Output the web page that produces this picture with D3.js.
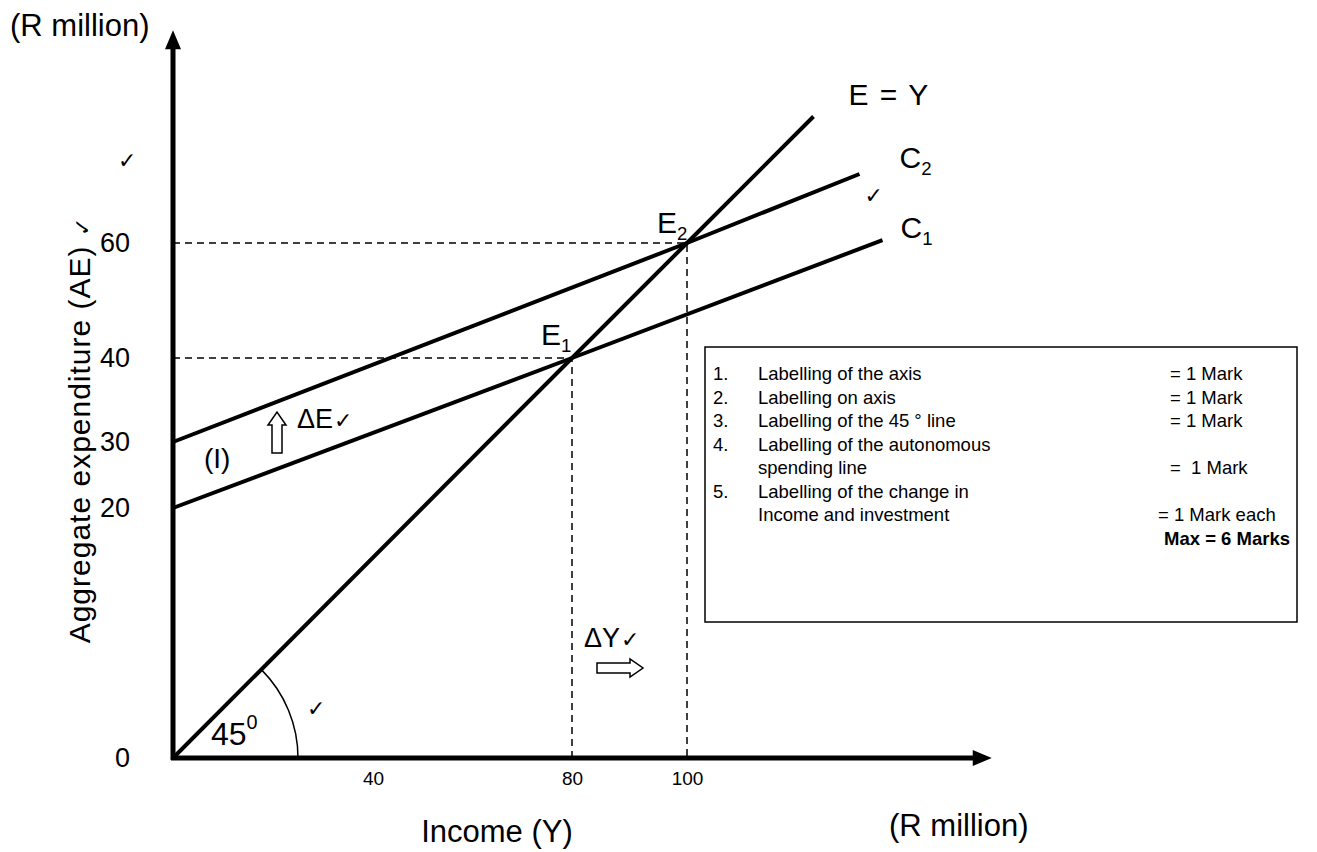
<!DOCTYPE html>
<html>
<head>
<meta charset="utf-8">
<script src="https://cdn.jsdelivr.net/npm/d3@7"></script>
<style>
	body { margin: 0; background: #fff; }
	svg text { font-family: "Liberation Sans", Arial, sans-serif; fill: #000; white-space: pre; }
	svg .chk { font-family: "DejaVu Sans", sans-serif; }
</style>
</head>
<body>
<div id="chart"></div>
<script>
// axis labels (R million)
let xTicks = [40, 80, 100];
let yTicks = [0, 20, 30, 40, 60];
let xStops = [0, 40, 80, 100];
let yStops = [0, 20, 30, 40, 60];

// lines, as [income, expenditure]
let eyLine = [[0, 0], [80, 40], [100, 60], [122, 82]];
let c2Line = [[0, 30], [100, 60], [130, 72]];
let c1Line = [[0, 20], [80, 40], [134, 60.5]];
let guide40 = [[0, 40], [80, 40], [80, 0]];
let guide60 = [[0, 60], [100, 60], [100, 0]];
let axisEnd = [153, 97];

// marking memo
let memo = [
	["1.", "Labelling of the axis", "= 1 Mark"],
	["2.", "Labelling on axis", "= 1 Mark"],
	["3.", "Labelling of the 45 ° line", "= 1 Mark"],
	["4.", "Labelling of the autonomous", ""],
	["", "spending line", "=  1 Mark"],
	["5.", "Labelling of the change in", ""],
	["", "Income and investment", "= 1 Mark each"],
];
let memoTotal = "Max = 6 Marks";

let width = 1317, height = 852;
let svg = d3.select("#chart").append("svg").attr("width", width).attr("height", height);

let x = d3.scaleLinear().domain(xStops).range([173, 373, 572, 687]);
let y = d3.scaleLinear().domain(yStops).range([758, 508, 442, 358, 243]);

let line = d3.line().x((d) => x(d[0])).y((d) => y(d[1]));

// guides
svg.selectAll("path.guide")
	.data([guide40, guide60])
	.join("path")
	.attr("class", "guide")
	.attr("d", line)
	.attr("fill", "none")
	.attr("stroke", "#000")
	.attr("stroke-width", 1.5)
	.attr("stroke-dasharray", "7,5");

// tick labels
svg.append("g")
	.attr("transform", `translate(${x(0)},0)`)
	.call(d3.axisLeft(y).tickValues(yTicks).tickSize(0).tickPadding(43))
	.call((g) => g.select(".domain").remove())
	.call((g) => g.selectAll("text").attr("font-size", 27).attr("font-family", null));

svg.append("g")
	.attr("transform", `translate(0,${y(0)})`)
	.call(d3.axisBottom(x).tickValues(xTicks).tickSize(0).tickPadding(14))
	.call((g) => g.select(".domain").remove())
	.call((g) => g.selectAll("text").attr("font-size", 19).attr("font-family", null));

// axes with arrows
let x0 = x(0), y0 = y(0), xt = x(axisEnd[0]), yt = y(axisEnd[1]);
svg.append("path")
	.attr("d", `M${x0},${y0 + 2}V${yt + 16}M${x0 - 2},${y0}H${xt - 16}`)
	.attr("stroke", "#000")
	.attr("stroke-width", 5);
svg.append("path")
	.attr("d", `M${x0},${yt}L${x0 - 8},${yt + 19}L${x0 + 8},${yt + 19}Z M${xt},${y0}L${xt - 19},${y0 - 8}L${xt - 19},${y0 + 8}Z`)
	.attr("fill", "#000");

// E = Y, C2, C1
svg.selectAll("path.fn")
	.data([eyLine, c2Line, c1Line])
	.join("path")
	.attr("class", "fn")
	.attr("d", line)
	.attr("fill", "none")
	.attr("stroke", "#000")
	.attr("stroke-width", 4);

// 45 degree arc
let arc = d3.path();
arc.arc(x0, y0, 125, -Math.PI / 4, 0);
svg.append("path").attr("d", arc.toString()).attr("fill", "none").attr("stroke", "#000").attr("stroke-width", 1.5);

let label = (px, py, main, sub, size = 30, sup = false) => {
	let t = svg.append("text").attr("x", px).attr("y", py).attr("font-size", size);
	t.append("tspan").text(main);
	if (sub) t.append("tspan").attr("font-size", size * 0.62).attr("dy", sup ? -size * 0.5 : size * 0.22).text(sub);
	return t;
};
let check = (px, py, size = 22) =>
	svg.append("text").attr("class", "chk").attr("x", px).attr("y", py).attr("font-size", size).text("✓");

let pEY = eyLine[eyLine.length - 1], pC2 = c2Line[c2Line.length - 1], pC1 = c1Line[c1Line.length - 1];
label(x(pEY[0]) + 35, y(pEY[1]) - 12, "E = Y").attr("letter-spacing", 1.5);
label(x(pC2[0]) + 40, y(pC2[1]) - 6, "C", "2");
check(x(pC2[0]) + 5, y(pC2[1]) + 29);
label(x(pC1[0]) + 18, y(pC1[1]) - 2, "C", "1");
label(x(100) - 30, y(60) - 10, "E", "2");
label(x(80) - 31, y(40) - 13, "E", "1");

label(204, 468, "(I)", null, 28);
label(297, 428, "ΔE", null, 27);
check(334, 428);
label(584, 647, "ΔY", null, 27);
check(621, 647);
label(211, 745, "45", "0", 32, true);
check(307, 716);
check(118, 168);

// hollow arrows
let hollow = (pts) =>
	svg.append("path").attr("d", d3.line()(pts) + "Z").attr("fill", "#fff").attr("stroke", "#000").attr("stroke-width", 1.5);
hollow([[272, 453], [272, 425], [268, 425], [277, 412], [286, 425], [282, 425], [282, 453]]);
hollow([[597, 663], [630, 663], [630, 659], [643, 668], [630, 677], [630, 673], [597, 673]]);

// axis titles
svg.append("text").attr("x", 10).attr("y", 36).attr("font-size", 31).text("(R million)");
svg.append("text").attr("x", 889).attr("y", 836).attr("font-size", 31).text("(R million)");
svg.append("text").attr("x", 497).attr("y", 842).attr("font-size", 31).attr("text-anchor", "middle").text("Income (Y)");
let ytl = svg.append("text")
	.attr("transform", "translate(90,430) rotate(-90)")
	.attr("text-anchor", "middle")
	.attr("font-size", 30)
	.attr("letter-spacing", 1);
ytl.append("tspan").text("Aggregate expenditure (AE) ");
ytl.append("tspan").attr("class", "chk").attr("font-size", 22).text("✓");

// memo box
let box = { left: 705, top: 347, right: 1297, bottom: 622 };
svg.append("rect")
	.attr("x", box.left).attr("y", box.top)
	.attr("width", box.right - box.left).attr("height", box.bottom - box.top)
	.attr("fill", "#fff").attr("stroke", "#000").attr("stroke-width", 1.5);
let lh = 23.5;
let rows = svg.append("g");
memo.forEach((r, i) => {
	let by = box.top + 33 + i * lh;
	rows.append("text").attr("x", box.left + 8).attr("y", by).attr("font-size", 18.5).text(r[0]);
	rows.append("text").attr("x", box.left + 53).attr("y", by).attr("font-size", 18.5).text(r[1]);
	rows.append("text").attr("x", i === 6 ? 1158 : 1170).attr("y", by).attr("font-size", 18.5).text(r[2]);
});
rows.append("text")
	.attr("x", 1290).attr("y", box.top + 33 + memo.length * lh)
	.attr("text-anchor", "end").attr("font-size", 18.5).attr("font-weight", "bold")
	.text(memoTotal);
</script>
</body>
</html>
